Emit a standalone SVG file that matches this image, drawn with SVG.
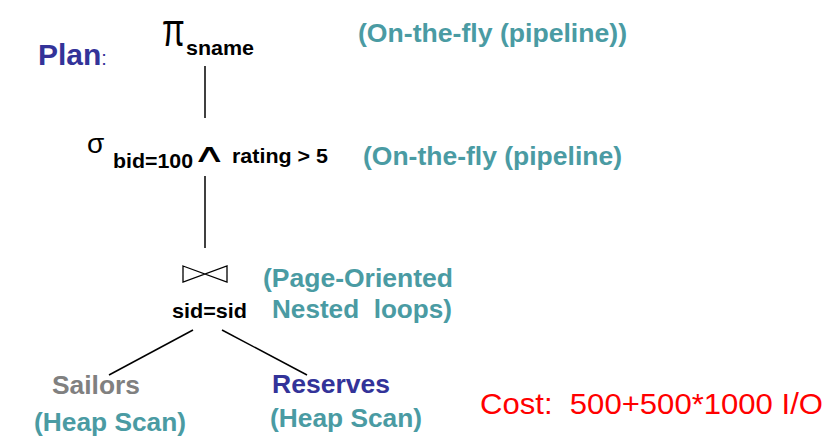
<svg xmlns="http://www.w3.org/2000/svg" width="840" height="446" viewBox="0 0 840 446">
<style>
text{font-family:"Liberation Sans",Arial,sans-serif}
.b{font-weight:bold}
.teal{fill:#4a9ba3;font-weight:bold;font-size:26px}
.blk{fill:#000;font-weight:bold;font-size:21px}
.edge{stroke:#000;stroke-width:1.5;fill:none}
</style>
<rect width="840" height="446" fill="#fff"/>
<g id="label-plan">
<text x="38" y="65" class="b" font-size="30" fill="#333399">Plan<tspan font-weight="normal" font-size="20">:</tspan></text>
</g>
<g id="node-project">
<text font-family="Liberation Sans,sans-serif" font-size="44" transform="translate(162,46) scale(0.75,1.05)">π</text>
<text x="186" y="55" class="blk" textLength="68" lengthAdjust="spacingAndGlyphs">sname</text>
<text x="358" y="42" class="teal" textLength="269" lengthAdjust="spacingAndGlyphs">(On-the-fly (pipeline))</text>
</g>
<g id="node-select">
<text x="87" y="153" font-family="DejaVu Serif,serif" font-size="28">σ</text>
<text x="113" y="168" class="blk" textLength="80" lengthAdjust="spacingAndGlyphs">bid=100</text>
<text font-family="Noto Sans CJK SC,sans-serif" font-size="48" transform="translate(192,162) scale(1,0.55)">∧</text>
<text x="232" y="163" class="blk" textLength="96" lengthAdjust="spacingAndGlyphs">rating &gt; 5</text>
<text x="363" y="165" class="teal" textLength="259" lengthAdjust="spacingAndGlyphs">(On-the-fly (pipeline)</text>
</g>
<g id="node-join">
<polygon points="183,266 227,282 227,266 183,282" fill="none" stroke="#000" stroke-width="1.3"/>
<text x="172" y="318" class="blk" textLength="75" lengthAdjust="spacingAndGlyphs">sid=sid</text>
<text x="263" y="287" class="teal" textLength="190" lengthAdjust="spacingAndGlyphs">(Page-Oriented</text>
<text x="272" y="318" class="teal" textLength="180" lengthAdjust="spacingAndGlyphs" xml:space="preserve">Nested  loops)</text>
</g>
<g id="node-sailors">
<text x="52" y="394" class="b" font-size="26" fill="#808080" textLength="88" lengthAdjust="spacingAndGlyphs">Sailors</text>
<text x="34" y="431" class="teal" textLength="152" lengthAdjust="spacingAndGlyphs">(Heap Scan)</text>
</g>
<g id="node-reserves">
<text x="272" y="393" class="b" font-size="26" fill="#333399" textLength="118" lengthAdjust="spacingAndGlyphs">Reserves</text>
<text x="270" y="427" class="teal" textLength="152" lengthAdjust="spacingAndGlyphs">(Heap Scan)</text>
</g>
<g id="label-cost">
<text x="480" y="414" font-size="29" fill="#ff0000" textLength="343" lengthAdjust="spacingAndGlyphs" xml:space="preserve">Cost:  500+500*1000 I/O</text>
</g>
<g id="connectors">
<line class="edge" x1="205" y1="66" x2="205" y2="118"/>
<line class="edge" x1="205" y1="176" x2="205" y2="248"/>
<line class="edge" x1="193" y1="330" x2="109" y2="375" stroke-width="1.3"/>
<line class="edge" x1="222" y1="330" x2="307" y2="375" stroke-width="1.3"/>
</g>
</svg>
